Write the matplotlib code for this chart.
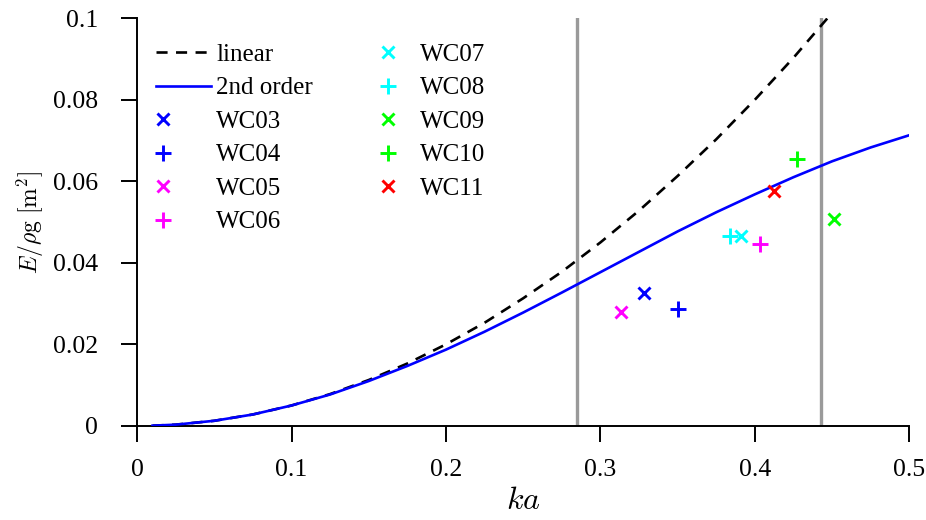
import numpy as np
import matplotlib
matplotlib.use("Agg")
import matplotlib.pyplot as plt
from matplotlib.legend_handler import HandlerLine2D

################################################################################
#
# Data:
#-----------------------------

ka_lin = [0.01, 0.025, 0.05, 0.075, 0.1, 0.125, 0.15, 0.175, 0.2, 0.225,
          0.25, 0.275, 0.3, 0.325, 0.35, 0.375, 0.4, 0.425, 0.447]
E_lin = [0.00005, 0.0003, 0.00125, 0.0028, 0.005, 0.0078, 0.01125, 0.0153,
         0.02, 0.0253, 0.0313, 0.0378, 0.045, 0.0528, 0.0613, 0.0703, 0.08,
         0.0903, 0.1]

ka_2nd = [0.01, 0.025, 0.05, 0.075, 0.1, 0.125, 0.15, 0.175, 0.2, 0.225,
          0.25, 0.275, 0.3, 0.325, 0.35, 0.375, 0.4, 0.425, 0.45, 0.475, 0.5]
E_2nd = [0.00005, 0.0003, 0.00125, 0.0028, 0.005, 0.0077, 0.011, 0.0147,
         0.0187, 0.0231, 0.0278, 0.0327, 0.0377, 0.0427, 0.0477, 0.0524,
         0.0568, 0.061, 0.0649, 0.0683, 0.0713]

cases = ["WC03", "WC04", "WC05", "WC06", "WC07", "WC08", "WC09", "WC10", "WC11"]
ka_wc = [0.3284, 0.3502, 0.3133, 0.4035, 0.3912, 0.3841, 0.4514, 0.4273, 0.4121]
E_wc = [0.0327, 0.0286, 0.0280, 0.0445, 0.0466, 0.0466, 0.0507, 0.0654, 0.0577]
colors = ["blue", "blue", "magenta", "magenta", "cyan", "cyan",
          "lime", "lime", "red"]
markers = ["x", "+", "x", "+", "x", "+", "x", "+", "x"]

ka_limits = [0.285, 0.443]

xticks = [0, 0.1, 0.2, 0.3, 0.4, 0.5]
xticklabels = ["0", "0.1", "0.2", "0.3", "0.4", "0.5"]
yticks = [0, 0.02, 0.04, 0.06, 0.08, 0.1]
yticklabels = ["0", "0.02", "0.04", "0.06", "0.08", "0.1"]

################################################################################
#
# Legend handler: marker near the left end of the handle (first column)
#----------------------------------------------------------------------
#
# With numpoints=1 the marker sits in the middle of xdata, so the span is
# shortened to put that middle at ~13% of the handle width.

class LeftMarker(HandlerLine2D):
    def get_xdata(self, legend, xdescent, ydescent, width, height, fontsize):
        x0 = -xdescent
        return [x0, x0 + 0.26 * width], [x0 + 0.13 * width]

################################################################################
#
# Figure:
#--------

plt.rcParams["font.family"] = ["Liberation Serif", "DejaVu Serif"]
plt.rcParams["mathtext.fontset"] = "cm"

fig = plt.figure(figsize=(9.26, 5.2), dpi=100)
ax = fig.add_axes([0.148, 0.181, 0.834, 0.784])

for xv in ka_limits:
    ax.axvline(xv, color="#9a9a9a", lw=2.4, zorder=1)

ax.plot(ka_lin, E_lin, color="black", lw=1.9, dashes=(4.2, 3.2),
        label="linear", zorder=3)
ax.plot(ka_2nd, E_2nd, color="blue", lw=1.9, label="2nd order", zorder=3)

hmap = {}
for i, (name, xv, yv, c, m) in enumerate(zip(cases, ka_wc, E_wc, colors, markers)):
    ms = 11 if m == "+" else 8.5
    l, = ax.plot([xv], [yv], ls="none", marker=m, color=c, ms=ms, mew=2.1,
                 label=name, zorder=4)
    if i < 4:
        hmap[l] = LeftMarker()

ax.set_xlim(0, 0.5)
ax.set_ylim(0, 0.1)
ax.set_xticks(xticks)
ax.set_xticklabels(xticklabels)
ax.set_yticks(yticks)
ax.set_yticklabels(yticklabels)
ax.tick_params(axis="both", direction="out", length=11.5, width=1.4,
               labelsize=18.5)
ax.tick_params(axis="x", pad=12)
ax.tick_params(axis="y", pad=16.5)
for side in ["top", "right"]:
    ax.spines[side].set_visible(False)
for side in ["left", "bottom"]:
    ax.spines[side].set_linewidth(1.4)

ax.set_xlabel(r"$ka$", fontsize=23, labelpad=5)
ax.set_ylabel(r"$E/\rho\mathrm{g}\ [\mathrm{m}^2]$", fontsize=17, labelpad=5)

ax.legend(ncol=2, frameon=False, loc="upper left",
          bbox_to_anchor=(0.0246, 0.938), borderaxespad=0, borderpad=0,
          fontsize=18, handlelength=2.2, handletextpad=0.2,
          columnspacing=1.9, labelspacing=0.44, handler_map=hmap)

fig.savefig("out.png", dpi=100)
